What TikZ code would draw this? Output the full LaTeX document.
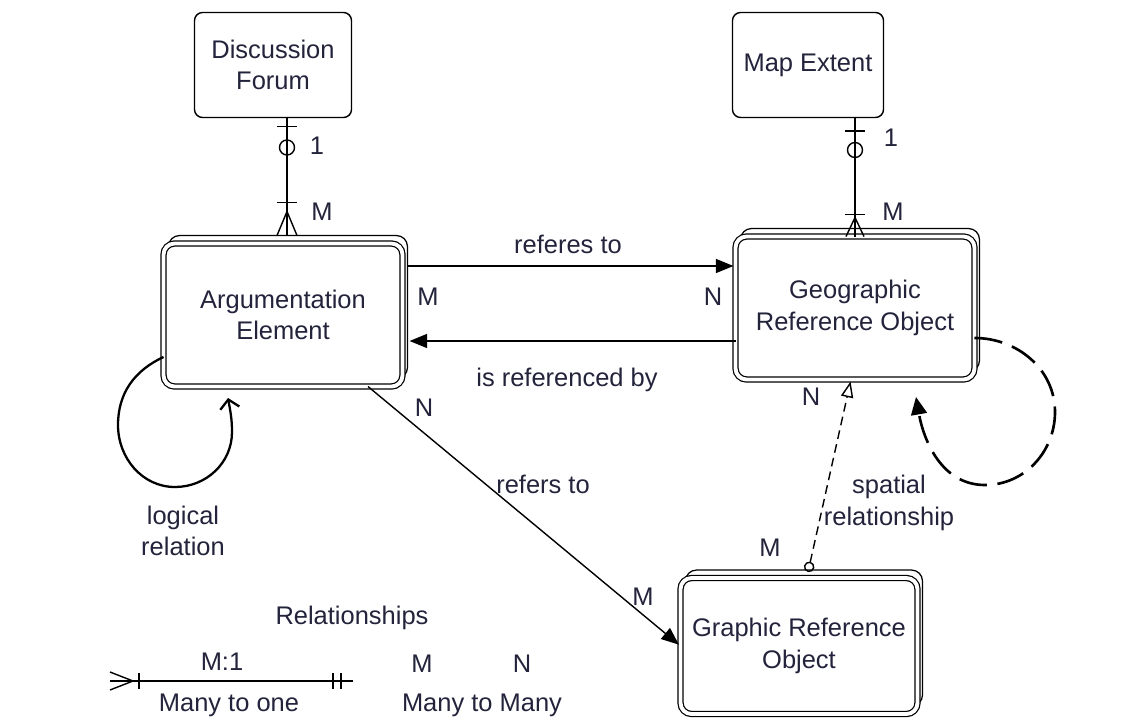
\documentclass[tikz,border=0pt]{standalone}
\usepackage{fontspec}
\setmainfont{Liberation Sans}
\usetikzlibrary{arrows.meta,backgrounds}

\definecolor{ink}{RGB}{35,35,60}

\tikzset{
  topbox/.style={draw, line width=0.8pt, rounded corners=0.16cm, fill=white, align=center, text=ink, minimum width=3.14cm, minimum height=2.1cm, outer sep=0pt},
  entity/.style={draw, double, double distance=2.2pt, line width=0.7pt, rounded corners=0.22cm, fill=white, align=center, text=ink, minimum width=4.78cm, minimum height=2.86cm, outer sep=0pt},
  backbox/.style={draw, line width=0.7pt, rounded corners=0.22cm},
  txt/.style={text=ink, inner sep=1pt, align=center},
  flow/.style={line width=0.8pt, -{Triangle[length=10pt,width=8pt]}, shorten >=1.2pt}
}

\begin{document}
\begin{tikzpicture}[x=0.02cm, y=0.02cm, line width=0.8pt, font=\fontsize{14.5}{18}\selectfont]

\useasboundingbox ( 0, 0 ) rectangle ( 1143, -720 );

% Entities
\node [topbox] (forum) at ( 273, -65 ) {Discussion\\Forum};
\node [topbox, minimum width=3.02cm] (extent) at ( 808, -65 ) {Map Extent};
\node [entity] (arg) at ( 283, -315 ) {Argumentation\\Element};
\node [entity] (geo) at ( 855, -308 ) {Geographic\\Reference Object};
\node [entity, minimum width=4.74cm, minimum height=2.72cm] (gra) at ( 799, -646 ) {Graphic Reference\\Object};

% Stacked copies
\begin{scope}[on background layer]
\foreach \e in {arg,geo,gra}
  \draw [backbox] ([shift={(0.1cm,0.16cm)}]\e.south west) rectangle ([shift={(0.1cm,0.16cm)}]\e.north east);
\end{scope}

\coordinate (argtop) at ([yshift=0.16cm]arg.north);
\coordinate (argright) at ([xshift=0.1cm]arg.east);

% Discussion Forum -- Argumentation Element
\draw (forum.south -| 287,0) coordinate (fa) -- (argtop -| 287,0) coordinate (fb);
\draw (fa) ++( -10, -9 ) -- ++( 20, 0 );
\draw (fa) ++( 0, -30 ) circle [radius=7.5];
\draw (fb) ++( -10, 33 ) -- ++( 20, 0 );
\draw (fb) ++( -10, 0 ) -- ++( 10, 24 ) -- ++( 10, -24 );

\node [txt] (forumone) at ( 317, -146 ) {1};
\node [txt] (argmany) at ( 322, -212 ) {M};

% Map Extent -- Geographic Reference Object
\draw (extent.south -| geo.north) coordinate (ea) -- (geo.north) coordinate (eb);
\draw (ea) ++( -10, -13.5 ) -- ++( 20, 0 );
\draw (ea) ++( 0, -32.5 ) circle [radius=7.5];
\draw (eb) ++( -10, 22 ) -- ++( 20, 0 );
\draw (eb) ++( -9, 0 ) -- ++( 9, 19 ) -- ++( 9, -19 );

\node [txt] (extentone) at ( 891, -138 ) {1};
\node [txt] (geomany) at ( 893, -212 ) {M};

% References
\draw [flow] (argright |- 0,-266) -- (geo.west |- 0,-266);
\draw [flow] (geo.west |- 0,-341) -- (argright |- 0,-341);
\draw [flow] ([xshift=1.7cm]arg.south) -- (gra.west);

\node [txt] (refto) at ( 568, -244 ) {referes to};
\node [txt] (refby) at ( 567, -380 ) {is referenced by};
\node [txt] (refers) at ( 543, -484 ) {refers to};
\node [txt] (argm) at ( 428, -297 ) {M};
\node [txt] (geon) at ( 713, -297 ) {N};
\node [txt] (argn) at ( 424, -408 ) {N};
\node [txt] (gram) at ( 643, -597 ) {M};

% Spatial relationship
\draw [dash pattern=on 5pt off 3pt, {Circle[open,length=6pt]}-{Triangle[open,length=9pt,width=7pt]}, shorten >=1.2pt] ([shift={(0.18cm,0.12cm)}]gra.north) -- ([xshift=-0.08cm]geo.south);

\node [txt] (geon2) at ( 811, -397 ) {N};
\node [txt] (gram2) at ( 770, -548 ) {M};
\node [txt] (spatial) at ( 889, -503 ) {spatial\\relationship};

% Self loops
\draw [line width=1.3pt, -{Straight Barb[length=5pt,width=11pt]}] ([yshift=-0.84cm]arg.west) to[out=205,in=90] ( 118, -425 ) to[out=270,in=180] ( 175, -487 ) to[out=0,in=270] ( 232, -432 ) to[out=90,in=-80] ([shift={(-1.1cm,-0.23cm)}]arg.south);
\draw [line width=1.5pt, dash pattern=on 16pt off 6pt, -{Triangle[length=10pt,width=9pt]}] ([yshift=-0.6cm]geo.east) to[out=0,in=90] ( 1055, -412 ) to[out=270,in=0] ( 985, -485 ) to[out=180,in=-80] ([shift={(-1.17cm,-0.35cm)}]geo.south east);

\node [txt] (logical) at ( 183, -531 ) {logical\\relation};

% Legend
\node [txt] (legend) at ( 352, -618 ) {Relationships};
\coordinate (la) at ( 110, -681 );
\coordinate (lb) at ( 353, -681 );
\draw (la) -- (lb);
\draw (la) ++( 0, 9 ) -- ++( 23, -9 ) -- ++( -23, -9 );
\draw [line width=1pt] (la) ++( 29, 8 ) -- ++( 0, -16 );
\draw [line width=1pt] (lb) ++( -20, 8 ) -- ++( 0, -16 );
\draw [line width=1pt] (lb) ++( -12, 8 ) -- ++( 0, -16 );

\node [txt] (mone) at ( 222, -662 ) {M:1};
\node [txt] (manyone) at ( 229, -705 ) {Many to one};
\node [txt] (legm) at ( 422, -664 ) {M};
\node [txt] (legn) at ( 522, -664 ) {N};
\node [txt] (manymany) at ( 482, -705 ) {Many to Many};

\end{tikzpicture}
\end{document}
